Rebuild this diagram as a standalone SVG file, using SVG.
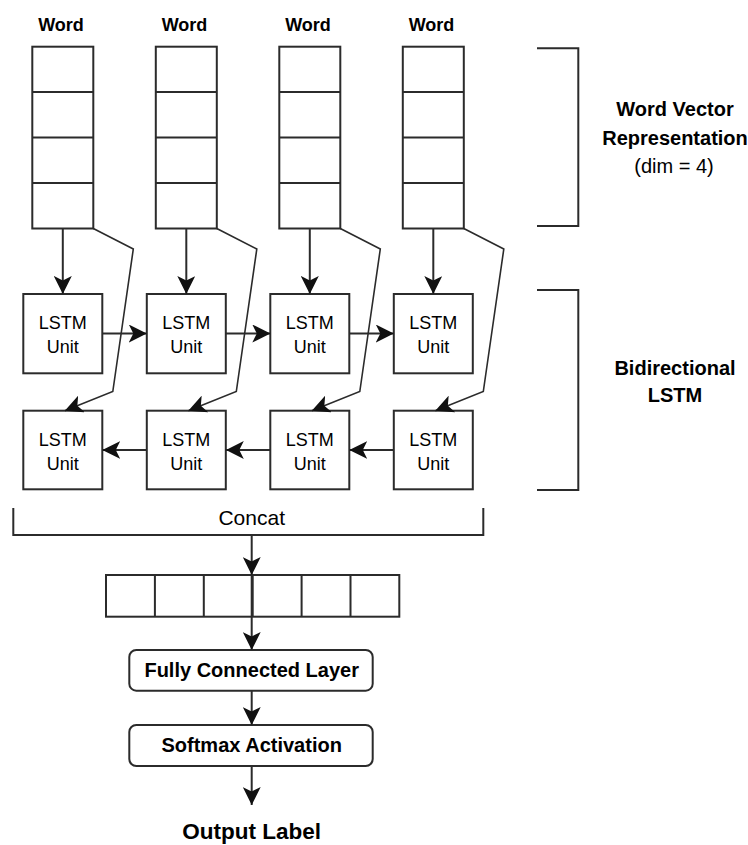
<svg xmlns="http://www.w3.org/2000/svg" width="748" height="845" viewBox="0 0 748 845">
<style>
.box{fill:#fff;stroke:#2b2b2b;stroke-width:2}
.ln{fill:none;stroke:#2b2b2b;stroke-width:2}
.dg{fill:none;stroke:#2b2b2b;stroke-width:1.6}
.t{font-family:"Liberation Sans",Arial,sans-serif;fill:#000;text-anchor:middle}
.b{font-weight:bold}
</style>
<defs>
<marker id="ah" viewBox="0 0 18 18" refX="18" refY="9" markerWidth="18" markerHeight="18" markerUnits="userSpaceOnUse" orient="auto">
<path d="M0,0 L18,9 L0,18 L4.5,9 Z" fill="#111"/>
</marker>
</defs>
<rect width="748" height="845" fill="#fff"/>

<!-- Word vector columns -->
<g id="word1">
<text class="t b" x="61" y="30.5" font-size="18">Word</text>
<rect class="box" x="32.3" y="46.7" width="61" height="181.8"/>
<path class="ln" d="M32.3,92 H93.3 M32.3,137.5 H93.3 M32.3,183 H93.3"/>
</g>
<g id="word2">
<text class="t b" x="184.5" y="30.5" font-size="18">Word</text>
<rect class="box" x="155.8" y="46.7" width="61" height="181.8"/>
<path class="ln" d="M155.8,92 H216.8 M155.8,137.5 H216.8 M155.8,183 H216.8"/>
</g>
<g id="word3">
<text class="t b" x="308" y="30.5" font-size="18">Word</text>
<rect class="box" x="279.3" y="46.7" width="61" height="181.8"/>
<path class="ln" d="M279.3,92 H340.3 M279.3,137.5 H340.3 M279.3,183 H340.3"/>
</g>
<g id="word4">
<text class="t b" x="431.5" y="30.5" font-size="18">Word</text>
<rect class="box" x="402.8" y="46.7" width="61" height="181.8"/>
<path class="ln" d="M402.8,92 H463.8 M402.8,137.5 H463.8 M402.8,183 H463.8"/>
</g>

<!-- Forward LSTM row -->
<g id="lstm-f1"><rect class="box" x="23.3" y="294" width="79" height="79.3"/><text class="t" x="62.8" y="328.5" font-size="18">LSTM</text><text class="t" x="62.8" y="352.5" font-size="18">Unit</text></g>
<g id="lstm-f2"><rect class="box" x="146.8" y="294" width="79" height="79.3"/><text class="t" x="186.3" y="328.5" font-size="18">LSTM</text><text class="t" x="186.3" y="352.5" font-size="18">Unit</text></g>
<g id="lstm-f3"><rect class="box" x="270.3" y="294" width="79" height="79.3"/><text class="t" x="309.8" y="328.5" font-size="18">LSTM</text><text class="t" x="309.8" y="352.5" font-size="18">Unit</text></g>
<g id="lstm-f4"><rect class="box" x="393.8" y="294" width="79" height="79.3"/><text class="t" x="433.3" y="328.5" font-size="18">LSTM</text><text class="t" x="433.3" y="352.5" font-size="18">Unit</text></g>

<!-- Backward LSTM row -->
<g id="lstm-b1"><rect class="box" x="23.3" y="410.7" width="79" height="78.6"/><text class="t" x="62.8" y="446" font-size="18">LSTM</text><text class="t" x="62.8" y="469.5" font-size="18">Unit</text></g>
<g id="lstm-b2"><rect class="box" x="146.8" y="410.7" width="79" height="78.6"/><text class="t" x="186.3" y="446" font-size="18">LSTM</text><text class="t" x="186.3" y="469.5" font-size="18">Unit</text></g>
<g id="lstm-b3"><rect class="box" x="270.3" y="410.7" width="79" height="78.6"/><text class="t" x="309.8" y="446" font-size="18">LSTM</text><text class="t" x="309.8" y="469.5" font-size="18">Unit</text></g>
<g id="lstm-b4"><rect class="box" x="393.8" y="410.7" width="79" height="78.6"/><text class="t" x="433.3" y="446" font-size="18">LSTM</text><text class="t" x="433.3" y="469.5" font-size="18">Unit</text></g>

<!-- Right brackets and labels -->
<g id="bracket-wv">
<path class="ln" d="M537,48.3 H578.3 V226 H537"/>
<text class="t b" x="675" y="116" font-size="20">Word Vector</text>
<text class="t b" x="675" y="145" font-size="20">Representation</text>
<text class="t" x="674" y="172.5" font-size="20">(dim = 4)</text>
</g>
<g id="bracket-bilstm">
<path class="ln" d="M537,290 H578.3 V490 H537"/>
<text class="t b" x="675" y="375" font-size="20">Bidirectional</text>
<text class="t b" x="675" y="402" font-size="20">LSTM</text>
</g>

<!-- Concat -->
<g id="concat">
<path class="ln" d="M13.3,508 V535 H483.3 V508"/>
<text class="t" x="251.7" y="525" font-size="21">Concat</text>
</g>

<!-- Concatenated vector -->
<g id="concat-vector">
<rect class="box" x="106" y="575" width="293.3" height="41.7"/>
<path class="ln" d="M154.9,575 V616.7 M203.8,575 V616.7 M252.7,575 V616.7 M301.6,575 V616.7 M350.5,575 V616.7"/>
</g>

<g id="fc">
<rect class="box" x="129.3" y="650" width="243.4" height="40.7" rx="7"/>
<text class="t b" x="251.7" y="677.3" font-size="20">Fully Connected Layer</text>
</g>
<g id="softmax">
<rect class="box" x="129.3" y="725" width="243.4" height="41" rx="7"/>
<text class="t b" x="251.7" y="752.3" font-size="20">Softmax Activation</text>
</g>
<g id="output">
<text class="t b" x="251.7" y="839" font-size="22.5">Output Label</text>
</g>

<!-- Connectors -->
<g id="connectors">
<path class="ln" marker-end="url(#ah)" d="M62.8,228.5 V294"/>
<path class="ln" marker-end="url(#ah)" d="M186.3,228.5 V294"/>
<path class="ln" marker-end="url(#ah)" d="M309.8,228.5 V294"/>
<path class="ln" marker-end="url(#ah)" d="M433.3,228.5 V294"/>

<path class="dg" marker-end="url(#ah)" d="M93.3,228.5 L133.3,249 L112.8,391.5 L64.8,410.7"/>
<path class="dg" marker-end="url(#ah)" d="M216.8,228.5 L256.8,249 L236.3,391.5 L188.3,410.7"/>
<path class="dg" marker-end="url(#ah)" d="M340.3,228.5 L380.3,249 L359.8,391.5 L311.8,410.7"/>
<path class="dg" marker-end="url(#ah)" d="M463.8,228.5 L503.8,249 L483.3,391.5 L435.3,410.7"/>

<path class="ln" marker-end="url(#ah)" d="M102.3,333.5 H146.8"/>
<path class="ln" marker-end="url(#ah)" d="M225.8,333.5 H270.3"/>
<path class="ln" marker-end="url(#ah)" d="M349.3,333.5 H393.8"/>

<path class="ln" marker-end="url(#ah)" d="M393.8,450 H349.3"/>
<path class="ln" marker-end="url(#ah)" d="M270.3,450 H225.8"/>
<path class="ln" marker-end="url(#ah)" d="M146.8,450 H102.3"/>

<path class="ln" marker-end="url(#ah)" d="M251.7,535 V575"/>
<path class="ln" marker-end="url(#ah)" d="M251.7,575 V650"/>
<path class="ln" marker-end="url(#ah)" d="M251.7,690.7 V725"/>
<path class="ln" marker-end="url(#ah)" d="M251.7,766 V805"/>
</g>
</svg>
